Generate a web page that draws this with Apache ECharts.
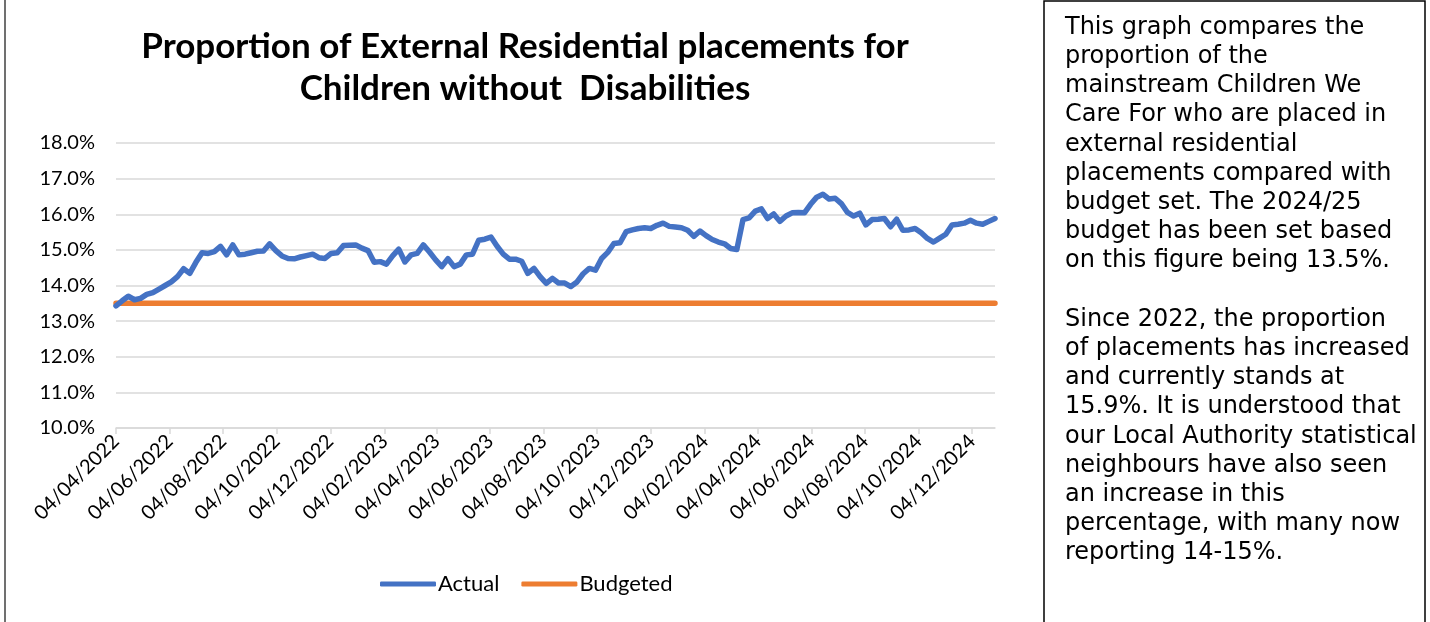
<!DOCTYPE html>
<html>
<head>
<meta charset="utf-8">
<script src="https://cdn.jsdelivr.net/npm/echarts@6/dist/echarts.min.js"></script>
<style>
    html, body { margin: 0; padding: 0; background: #fff; }
    #chart { width: 1430px; height: 622px; }
</style>
</head>
<body>
<div id="chart"></div>
<script>
// weekly series, first week 04/04/2022
var startDate = [2022, 4, 4];

// Actual proportion (%), one value per week
var actualValues = [
    13.43, 13.57, 13.70, 13.60, 13.64, 13.75, 13.80, 13.90, 14.00, 14.10,
    14.25, 14.47, 14.34, 14.65, 14.92, 14.90, 14.95, 15.10, 14.86, 15.14,
    14.86, 14.88, 14.92, 14.96, 14.97, 15.17, 14.98, 14.83, 14.76, 14.75,
    14.80, 14.84, 14.88, 14.78, 14.76, 14.90, 14.92, 15.12, 15.13, 15.14,
    15.05, 14.98, 14.65, 14.67, 14.60, 14.83, 15.02, 14.66, 14.86, 14.90,
    15.14, 14.94, 14.72, 14.53, 14.75, 14.53, 14.60, 14.86, 14.88, 15.27,
    15.30, 15.36, 15.10, 14.88, 14.74, 14.74, 14.68, 14.34, 14.48, 14.25,
    14.06, 14.20, 14.07, 14.07, 13.97, 14.10, 14.33, 14.48, 14.43, 14.76,
    14.93, 15.18, 15.20, 15.51, 15.56, 15.60, 15.62, 15.60, 15.69, 15.75,
    15.66, 15.64, 15.62, 15.55, 15.38, 15.53, 15.40, 15.29, 15.22, 15.17,
    15.04, 15.01, 15.85, 15.90, 16.09, 16.15, 15.88, 16.01, 15.80, 15.95,
    16.04, 16.05, 16.04, 16.28, 16.48, 16.56, 16.43, 16.45, 16.30, 16.05,
    15.95, 16.03, 15.70, 15.85, 15.86, 15.88, 15.65, 15.86, 15.55, 15.56,
    15.60, 15.48, 15.32, 15.22, 15.33, 15.44, 15.70, 15.72, 15.75, 15.83,
    15.75, 15.72, 15.80, 15.88
];

// Budgeted proportion (%)
var budgetValue = 13.5;

// x axis tick labels (dd/mm/yyyy)
var tickLabels = [
    '04/04/2022', '04/06/2022', '04/08/2022', '04/10/2022', '04/12/2022',
    '04/02/2023', '04/04/2023', '04/06/2023', '04/08/2023', '04/10/2023',
    '04/12/2023', '04/02/2024', '04/04/2024', '04/06/2024', '04/08/2024',
    '04/10/2024', '04/12/2024'
];

var noteText = [
    'This graph compares the',
    'proportion of the',
    'mainstream Children We',
    'Care For who are placed in',
    'external residential',
    'placements compared with',
    'budget set. The 2024/25',
    'budget has been set based',
    'on this figure being 13.5%.',
    '',
    'Since 2022, the proportion',
    'of placements has increased',
    'and currently stands at',
    '15.9%. It is understood that',
    'our Local Authority statistical',
    'neighbours have also seen',
    'an increase in this',
    'percentage, with many now',
    'reporting 14-15%.'
];

var DAY = 24 * 3600 * 1000;

var pad = function (n) {
    return n < 10 ? '0' + n : '' + n;
};

// dates as whole days counted in UTC, so no timezone drift
var toDay = function (y, m, d) {
    return Math.round(Date.UTC(y, m - 1, d) / DAY);
};

var parseLabel = function (s) {
    var p = s.split('/');
    return toDay(+p[2], +p[1], +p[0]);
};

var day0 = toDay(startDate[0], startDate[1], startDate[2]);
var weekDays = actualValues.map(function (v, i) {
    return day0 + 7 * i;
});

var actualData = weekDays.map(function (t, i) {
    return [t, actualValues[i]];
});
var budgetData = weekDays.map(function (t) {
    return [t, budgetValue];
});
var tickValues = tickLabels.map(parseLabel);

var chart = echarts.init(document.getElementById('chart'));

var option = {
    animation: false,
    backgroundColor: '#fff',
    title: {
        text: 'Proportion of External Residential placements for\nChildren without  Disabilities',
        left: 520,
        top: 21,
        textAlign: 'center',
        textStyle: {
            fontFamily: 'Lato',
            fontWeight: 'bold',
            fontSize: 35,
            lineHeight: 42,
            color: '#000'
        }
    },
    grid: {
        left: 116,
        right: 435,
        top: 143,
        bottom: 194,
        containLabel: false
    },
    legend: {
        bottom: 22,
        left: 375,
        itemWidth: 56,
        itemHeight: 5,
        itemGap: 22,
        icon: 'roundRect',
        textStyle: {
            fontFamily: 'Lato',
            fontSize: 22,
            color: '#000',
            padding: [0, 0, 0, -3]
        },
        data: ['Actual', 'Budgeted']
    },
    xAxis: {
        type: 'value',
        min: weekDays[0],
        max: weekDays[weekDays.length - 1],
        axisLine: { show: true, onZero: false, lineStyle: { color: '#d9d9d9', width: 1.5 } },
        axisTick: {
            show: true,
            length: 6,
            inside: false,
            customValues: tickValues,
            lineStyle: { color: '#d9d9d9', width: 1.5 }
        },
        axisLabel: {
            customValues: tickValues,
            rotate: 45,
            margin: 10,
            fontFamily: 'Lato',
            fontSize: 20,
            color: '#000',
            formatter: function (value) {
                var d = new Date(value * DAY);
                return pad(d.getUTCDate()) + '/' + pad(d.getUTCMonth() + 1) + '/' + d.getUTCFullYear();
            }
        },
        splitLine: { show: false }
    },
    yAxis: {
        type: 'value',
        min: 10,
        max: 18,
        interval: 1,
        axisLine: { show: false },
        axisTick: { show: false },
        axisLabel: {
            margin: 21,
            fontFamily: 'Lato',
            fontSize: 20,
            color: '#000',
            formatter: function (v) {
                return v.toFixed(1) + '%';
            }
        },
        splitLine: { lineStyle: { color: '#d9d9d9', width: 1.5 } }
    },
    series: [
        {
            name: 'Actual',
            type: 'line',
            data: actualData,
            showSymbol: false,
            symbol: 'none',
            z: 3,
            color: '#4472c4',
            lineStyle: { width: 5.5, color: '#4472c4', cap: 'round', join: 'round' }
        },
        {
            name: 'Budgeted',
            type: 'line',
            data: budgetData,
            showSymbol: false,
            symbol: 'none',
            z: 2,
            color: '#ed7d31',
            lineStyle: { width: 5.5, color: '#ed7d31', cap: 'round' }
        }
    ],
    graphic: [
        {
            type: 'line',
            shape: { x1: 5, y1: 0, x2: 5, y2: 622 },
            style: { stroke: '#404040', lineWidth: 1.5 }
        },
        {
            type: 'rect',
            shape: { x: 1044, y: 1, width: 381, height: 640 },
            style: { fill: 'none', stroke: '#000', lineWidth: 1.5 }
        },
        {
            type: 'text',
            left: 1065,
            top: 13,
            style: {
                text: noteText.join('\n'),
                fontFamily: 'DejaVu Sans',
                fontSize: 24,
                lineHeight: 29.2,
                fill: '#000'
            }
        }
    ]
};

chart.setOption(option);
</script>
</body>
</html>
